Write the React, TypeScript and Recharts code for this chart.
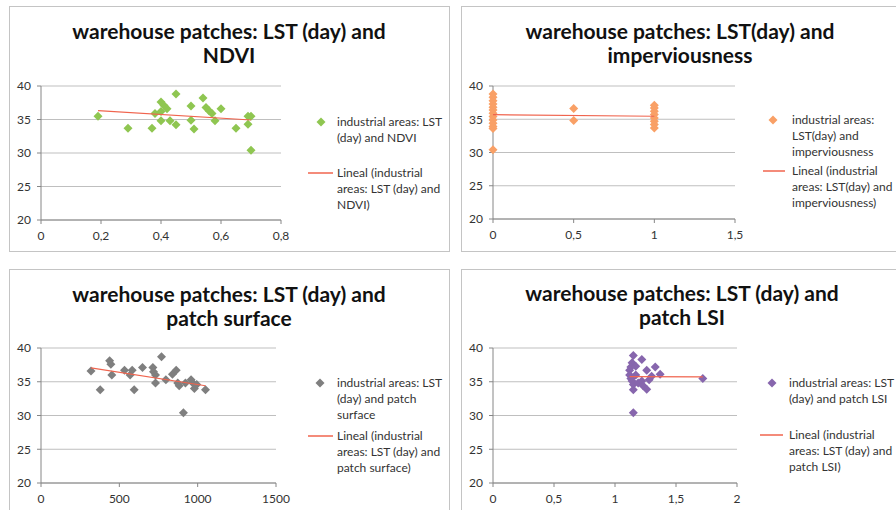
import React from "react";
import { ScatterChart, Scatter, XAxis, YAxis, CartesianGrid } from "recharts";

// LST (day) vs NDVI
const ndviX = [0.19, 0.29, 0.37, 0.38, 0.4, 0.41, 0.42, 0.4, 0.4, 0.43, 0.45, 0.45, 0.5, 0.5, 0.51, 0.54, 0.55, 0.56, 0.57, 0.58, 0.6, 0.65, 0.69, 0.69, 0.7, 0.7];
const ndviY = [35.5, 33.7, 33.7, 35.9, 37.6, 37.1, 36.6, 36.2, 34.8, 34.8, 38.8, 34.2, 37.0, 34.9, 33.6, 38.2, 36.8, 36.3, 35.9, 34.8, 36.6, 33.7, 34.3, 35.5, 35.5, 30.4];

// LST (day) vs imperviousness
const impX = [0, 0, 0, 0, 0, 0, 0, 0, 0, 0, 0, 0, 0, 0.5, 0.5, 1, 1, 1, 1, 1, 1, 1, 1];
const impY = [38.8, 38.3, 37.8, 37.3, 36.8, 36.4, 35.9, 35.4, 34.9, 34.4, 33.9, 33.6, 30.4, 36.6, 34.8, 37.1, 36.7, 36.2, 35.7, 35.2, 34.7, 34.2, 33.7];

// LST (day) vs patch surface
const surfX = [319, 378, 438, 446, 452, 533, 569, 582, 595, 648, 714, 718, 731, 731, 769, 797, 839, 863, 873, 882, 909, 922, 958, 969, 979, 994, 1050];
const surfY = [36.6, 33.8, 38.1, 37.6, 36.0, 36.7, 36.0, 36.7, 33.8, 37.1, 37.1, 36.5, 36.0, 34.8, 38.7, 35.3, 36.1, 36.7, 34.8, 34.4, 30.4, 34.8, 35.3, 34.8, 34.0, 34.6, 33.8];

// LST (day) vs patch LSI
const lsiX = [1.15, 1.22, 1.14, 1.13, 1.12, 1.12, 1.13, 1.14, 1.15, 1.15, 1.17, 1.19, 1.22, 1.23, 1.26, 1.26, 1.28, 1.3, 1.33, 1.37, 1.72, 1.15, 1.17];
const lsiY = [38.9, 38.3, 37.8, 37.2, 36.7, 36.0, 35.5, 35.1, 34.6, 33.8, 36.0, 34.8, 35.1, 34.4, 33.9, 36.7, 35.3, 35.8, 37.2, 36.1, 35.5, 30.4, 37.3];

const yTicks = [20, 25, 30, 35, 40];
const ndviTicks = [0, 0.2, 0.4, 0.6, 0.8];
const impTicks = [0, 0.5, 1, 1.5];
const surfTicks = [0, 500, 1000, 1500];
const lsiTicks = [0, 0.5, 1, 1.5, 2];

const FONT = "Lato, 'Open Sans', sans-serif";
const TREND = "#f0644e";

type Pt = { x: number; y: number };

const zip = (xs: number[], ys: number[]): Pt[] => xs.map((x, i) => ({ x, y: ys[i] }));

// linear (least squares) trendline, as Excel's "Lineal"
function trendline(pts: Pt[]): Pt[] {
  const n = pts.length;
  const mx = pts.reduce((s, p) => s + p.x, 0) / n;
  const my = pts.reduce((s, p) => s + p.y, 0) / n;
  let num = 0;
  let den = 0;
  pts.forEach((p) => {
    num += (p.x - mx) * (p.y - my);
    den += (p.x - mx) * (p.x - mx);
  });
  const b = den ? num / den : 0;
  const a = my - b * mx;
  const xs = pts.map((p) => p.x);
  const lo = Math.min(...xs);
  const hi = Math.max(...xs);
  return [
    { x: lo, y: a + b * lo },
    { x: hi, y: a + b * hi },
  ];
}

function Diamond(props: any) {
  const { cx, cy, fill } = props;
  if (cx == null || cy == null) return null;
  const r = 4.5;
  return <polygon points={`${cx},${cy - r} ${cx + r},${cy} ${cx},${cy + r} ${cx - r},${cy}`} fill={fill} />;
}

const NoDot = () => null;

const fmt = (v: number) => String(v).replace(".", ",");

interface PanelProps {
  box: { left: number; top: number; width: number; height: number };
  plot: { x1: number; x2: number; y1: number; y2: number };
  title: string[];
  titleAt: { cx: number; cy: number };
  data: Pt[];
  xTicks: number[];
  color: string;
  legend: { scatter: string[]; trend: string[] };
  legendAt: { marker: number; line: [number, number]; text: number; y1: number; y2: number };
}

function Panel(p: PanelProps) {
  const left = 40;
  const top = 20;
  const right = 20;
  const axisH = 25;
  const w = p.plot.x2 - p.plot.x1 + left + right;
  const h = p.plot.y2 - p.plot.y1 + top + axisH + 20;
  const trend = trendline(p.data);
  const tick = { fill: "#333", fontSize: 12, fontFamily: FONT };
  const lg = p.legendAt;
  return (
    <>
      <div
        style={{
          position: "absolute",
          left: p.box.left,
          top: p.box.top,
          width: p.box.width,
          height: p.box.height,
          border: "1px solid #c4c4c4",
          background: "#fff",
        }}
      />
      <div
        style={{
          position: "absolute",
          left: p.titleAt.cx - 250,
          top: p.titleAt.cy - 12,
          width: 500,
          textAlign: "center",
          fontFamily: FONT,
          fontWeight: 700,
          fontSize: 21,
          lineHeight: "24px",
          color: "#111",
        }}
      >
        {p.title.map((t) => (
          <div key={t}>{t}</div>
        ))}
      </div>
      <div style={{ position: "absolute", left: p.plot.x1 - left, top: p.plot.y1 - top }}>
        <ScatterChart width={w} height={h} margin={{ top, right, bottom: 20, left: 10 }}>
          <CartesianGrid vertical={false} stroke="#bfbfbf" />
          <XAxis
            type="number"
            dataKey="x"
            domain={[p.xTicks[0], p.xTicks[p.xTicks.length - 1]]}
            ticks={p.xTicks}
            tickFormatter={fmt}
            height={axisH}
            tickSize={4}
            tickMargin={7}
            stroke="#868686"
            tick={tick}
            interval={0}
          />
          <YAxis
            type="number"
            dataKey="y"
            domain={[20, 40]}
            ticks={yTicks}
            width={30}
            tickSize={4}
            tickMargin={6}
            stroke="#868686"
            tick={tick}
            interval={0}
          />
          <Scatter data={p.data} fill={p.color} shape={Diamond} isAnimationActive={false} />
          <Scatter
            data={trend}
            line={{ stroke: TREND, strokeWidth: 1.2 }}
            lineType="joint"
            shape={NoDot}
            isAnimationActive={false}
          />
        </ScatterChart>
      </div>
      <svg style={{ position: "absolute", left: 0, top: 0, overflow: "visible" }} width={1} height={1}>
        <Diamond cx={lg.marker} cy={lg.y1} fill={p.color} />
        <line x1={lg.line[0]} x2={lg.line[1]} y1={lg.y2} y2={lg.y2} stroke={TREND} strokeWidth={1.5} />
      </svg>
      {[
        { lines: p.legend.scatter, y: lg.y1 },
        { lines: p.legend.trend, y: lg.y2 },
      ].map((item, i) => (
        <div
          key={i}
          style={{
            position: "absolute",
            left: lg.text,
            top: item.y - 8,
            fontFamily: FONT,
            fontSize: 12,
            lineHeight: "16px",
            color: "#333",
            whiteSpace: "nowrap",
          }}
        >
          {item.lines.map((t) => (
            <div key={t}>{t}</div>
          ))}
        </div>
      ))}
    </>
  );
}

export default function App() {
  return (
    <div
      style={{
        position: "absolute",
        left: 0,
        top: 0,
        width: 896,
        height: 510,
        overflow: "hidden",
        background: "#fff",
      }}
    >
      <Panel
        box={{ left: 9, top: 6, width: 439, height: 244 }}
        plot={{ x1: 41, x2: 281, y1: 86, y2: 220 }}
        title={["warehouse patches: LST (day) and", "NDVI"]}
        titleAt={{ cx: 229, cy: 31 }}
        data={zip(ndviX, ndviY)}
        xTicks={ndviTicks}
        color="#8fc651"
        legend={{
          scatter: ["industrial areas: LST", "(day) and NDVI"],
          trend: ["Lineal (industrial", "areas: LST (day) and", "NDVI)"],
        }}
        legendAt={{ marker: 321, line: [308, 333], text: 337, y1: 122, y2: 173 }}
      />
      <Panel
        box={{ left: 461, top: 6, width: 440, height: 244 }}
        plot={{ x1: 493, x2: 735, y1: 86, y2: 219 }}
        title={["warehouse patches: LST(day) and", "imperviousness"]}
        titleAt={{ cx: 680, cy: 31 }}
        data={zip(impX, impY)}
        xTicks={impTicks}
        color="#f9a066"
        legend={{
          scatter: ["industrial areas:", "LST(day) and", "imperviousness"],
          trend: ["Lineal (industrial", "areas: LST(day) and", "imperviousness)"],
        }}
        legendAt={{ marker: 773, line: [763, 785], text: 792, y1: 120, y2: 171 }}
      />
      <Panel
        box={{ left: 9, top: 269, width: 439, height: 260 }}
        plot={{ x1: 41, x2: 276, y1: 348, y2: 483 }}
        title={["warehouse patches: LST (day) and", "patch surface"]}
        titleAt={{ cx: 229, cy: 294 }}
        data={zip(surfX, surfY)}
        xTicks={surfTicks}
        color="#7f7f7f"
        legend={{
          scatter: ["industrial areas: LST", "(day) and patch", "surface"],
          trend: ["Lineal (industrial", "areas: LST (day) and", "patch surface)"],
        }}
        legendAt={{ marker: 320, line: [308, 333], text: 337, y1: 383, y2: 436 }}
      />
      <Panel
        box={{ left: 461, top: 269, width: 440, height: 260 }}
        plot={{ x1: 493, x2: 737, y1: 348, y2: 483 }}
        title={["warehouse patches: LST (day) and", "patch LSI"]}
        titleAt={{ cx: 682, cy: 293 }}
        data={zip(lsiX, lsiY)}
        xTicks={lsiTicks}
        color="#8766ad"
        legend={{
          scatter: ["industrial areas: LST", "(day) and patch LSI"],
          trend: ["Lineal (industrial", "areas: LST (day) and", "patch LSI)"],
        }}
        legendAt={{ marker: 772, line: [760, 783], text: 789, y1: 383, y2: 435 }}
      />
    </div>
  );
}
